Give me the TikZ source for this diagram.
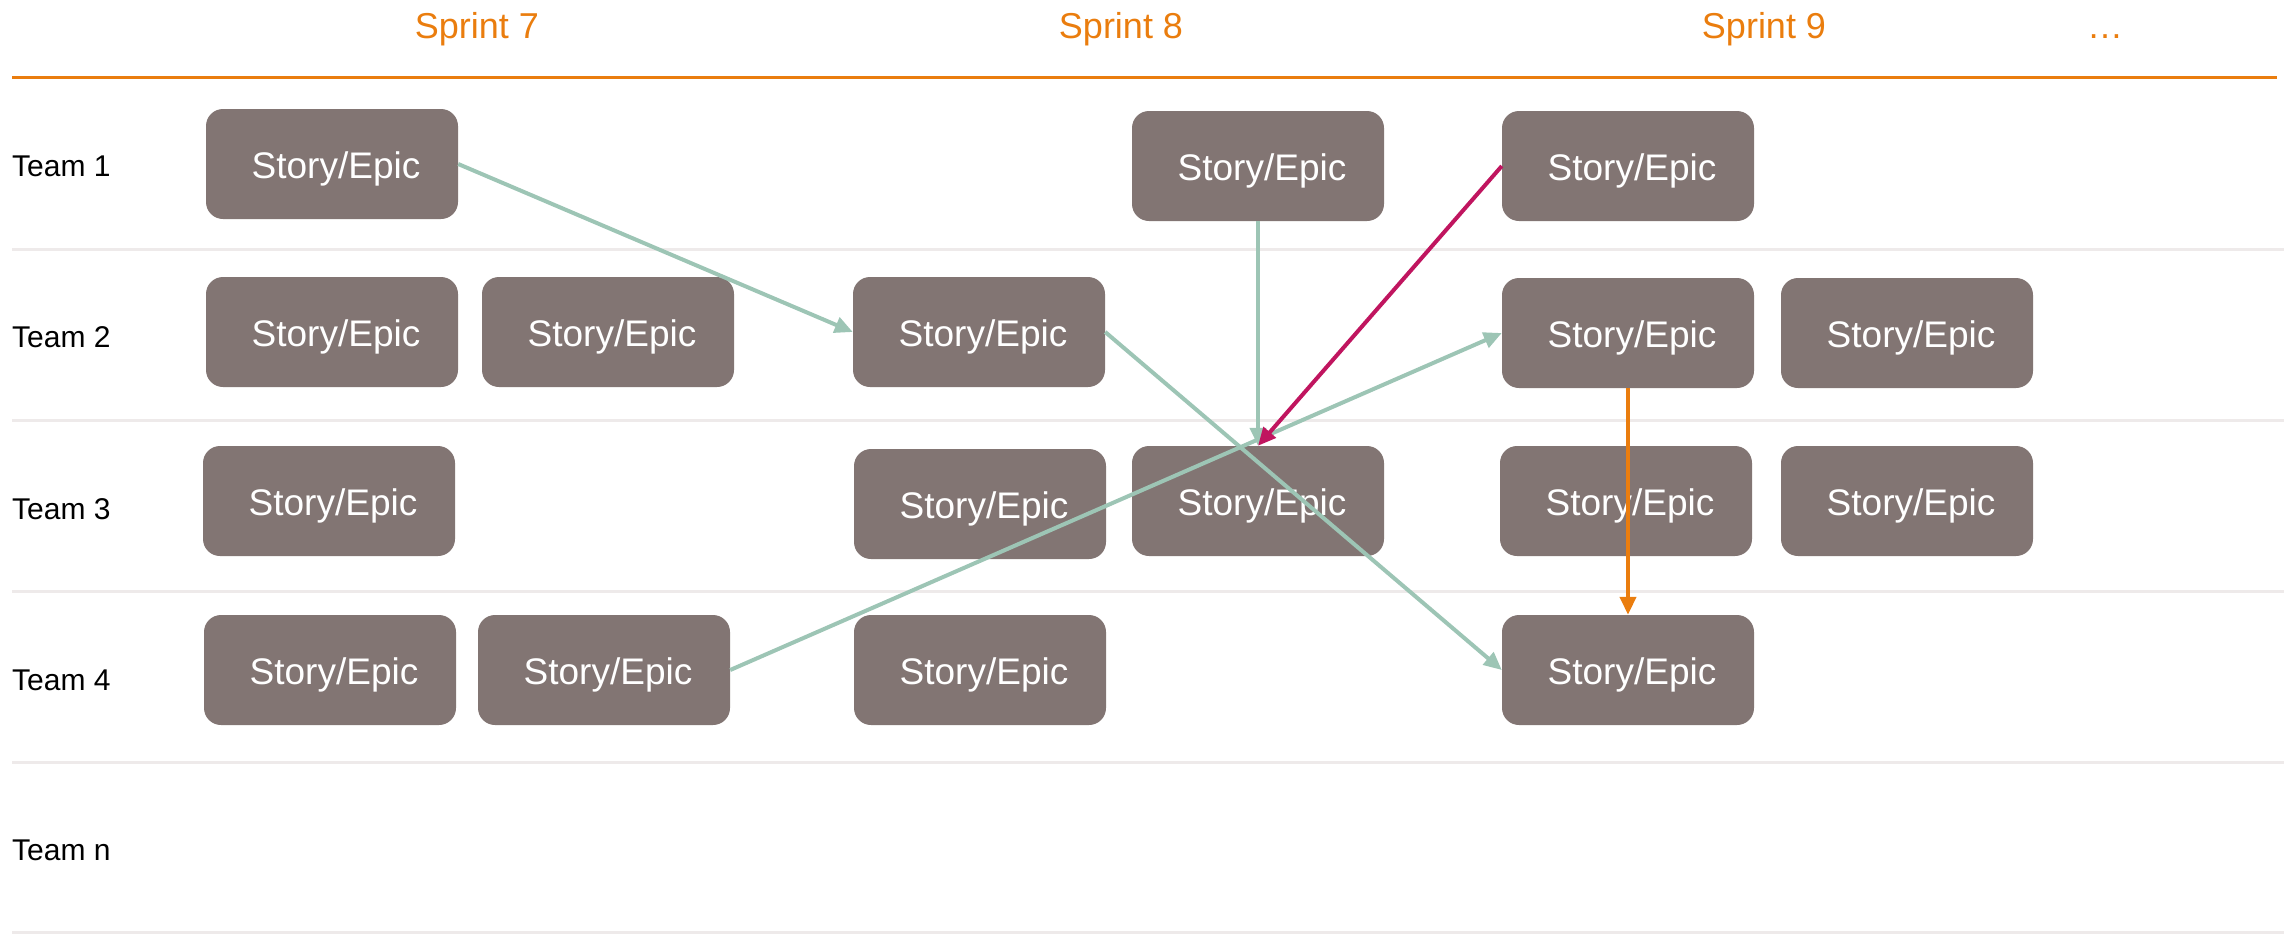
\documentclass[tikz,border=0pt]{standalone}
\usepackage{fontspec}
\setmainfont{Liberation Sans}
\usetikzlibrary{arrows.meta}
\definecolor{boxc}{HTML}{827573}
\definecolor{orng}{HTML}{EA7D0E}
\definecolor{grn}{HTML}{9DC5B5}
\definecolor{mag}{HTML}{C0155F}
\definecolor{sep}{HTML}{EEEAEA}
\begin{document}
\begin{tikzpicture}[x=1pt,y=-1pt,
  storybox/.style={fill=boxc, rounded corners=17pt, minimum width=252pt, minimum height=110pt, inner sep=0pt, text height=28pt, text depth=0pt, text=white, font=\fontsize{37}{44}\selectfont},
  teamlbl/.style={anchor=base west, inner sep=0pt, font=\fontsize{30}{36}\selectfont},
  sprintlbl/.style={anchor=base, inner sep=0pt, text=orng, font=\fontsize{36}{43}\selectfont},
  dep/.style={line width=4pt, -{Triangle[length=18pt,width=16pt]}},
  sepline/.style={draw=sep, line width=3pt}]
\useasboundingbox (0,0) rectangle (2284,935);
% headers
\node[sprintlbl] (s7) at (477,38) {Sprint 7};
\node[sprintlbl] (s8) at (1121,38) {Sprint 8};
\node[sprintlbl] (s9) at (1764,38) {Sprint 9};
\node[sprintlbl] (sd) at (2105,38) {…};
\draw[orng, line width=3pt] (12,77) -- (2277,77);
% separators
\foreach \yy in {249,420,591,762,932} \draw[sepline] (12,\yy) -- (2284,\yy);
% team labels
\node[teamlbl] (t1) at (12,176) {Team 1};
\node[teamlbl] (t2) at (12,347) {Team 2};
\node[teamlbl] (t3) at (12,519) {Team 3};
\node[teamlbl] (t4) at (12,690) {Team 4};
\node[teamlbl] (tn) at (12,860) {Team n};
% boxes
\newcommand{\se}{\hspace{8pt}Story/Epic}
\node[storybox] (a1) at (332,164) {\se};
\node[storybox] (a2) at (1258,166) {\se};
\node[storybox] (a3) at (1628,166) {\se};
\node[storybox] (b1) at (332,332) {\se};
\node[storybox] (b2) at (608,332) {\se};
\node[storybox] (b3) at (979,332) {\se};
\node[storybox] (b4) at (1628,333) {\se};
\node[storybox] (b5) at (1907,333) {\se};
\node[storybox] (c1) at (329,501) {\se};
\node[storybox] (c2) at (980,504) {\se};
\node[storybox] (c3) at (1258,501) {\se};
\node[storybox] (c4) at (1626,501) {\se};
\node[storybox] (c5) at (1907,501) {\se};
\node[storybox] (d1) at (330,670) {\se};
\node[storybox] (d2) at (604,670) {\se};
\node[storybox] (d3) at (980,670) {\se};
\node[storybox] (d4) at (1628,670) {\se};
% dependencies
\draw[dep, grn] (a1.east) -- (b3.west);
\draw[dep, grn] (b3.east) -- (d4.west);
\draw[dep, grn] (a2.south) -- (c3.north);
\draw[dep, grn] (d2.east) -- (b4.west);
\draw[dep, mag] (a3.west) -- (c3.north);
\draw[dep, orng] (b4.south) -- (d4.north);
\end{tikzpicture}
\end{document}
